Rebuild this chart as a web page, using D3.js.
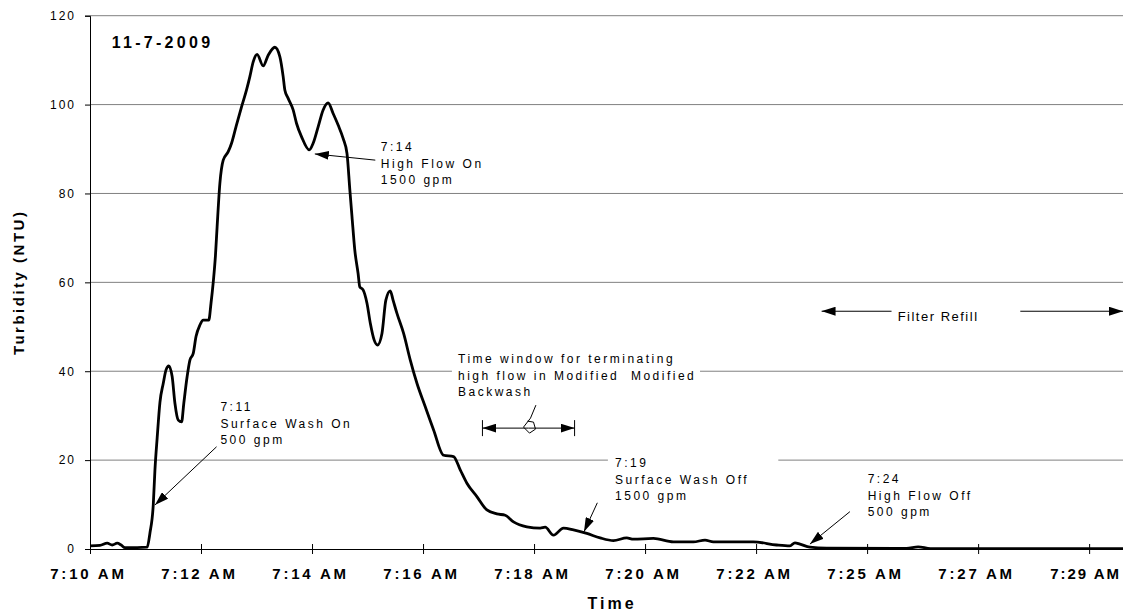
<!DOCTYPE html>
<html>
<head>
<meta charset="utf-8">
<title>Turbidity 11-7-2009</title>
<script src="https://d3js.org/d3.v7.min.js"></script>
<style>
  body { margin: 0; background: #fff; }
  svg text { font-family: "Liberation Sans", Arial, sans-serif; fill: #000; }
</style>
</head>
<body>
<div id="chart"></div>
<script>
// minutes after 7:10 AM
var minutes = [0, 0.18, 0.31, 0.40, 0.49, 0.56, 0.63, 0.85, 1.03, 1.08, 1.14, 1.17, 1.21, 1.26, 1.32, 1.37, 1.42, 1.48, 1.53, 1.59,
  1.65, 1.69, 1.75, 1.80, 1.86, 1.91, 1.98, 2.04, 2.14, 2.18, 2.22, 2.26, 2.29, 2.34, 2.40, 2.49, 2.55, 2.63, 2.73, 2.82,
  2.88, 2.94, 3.01, 3.12, 3.21, 3.33, 3.42, 3.48, 3.51, 3.57, 3.66, 3.72, 3.81, 3.95, 4.02, 4.11, 4.20, 4.29, 4.38, 4.47,
  4.56, 4.63, 4.68, 4.72, 4.77, 4.83, 4.86, 4.92, 4.99, 5.05, 5.12, 5.18, 5.26, 5.33, 5.41, 5.46, 5.53, 5.65, 5.77, 5.89,
  6.04, 6.19, 6.37, 6.55, 6.67, 6.79, 6.97, 7.15, 7.33, 7.48, 7.63, 7.87, 8.11, 8.20, 8.35, 8.53, 8.71, 8.95, 9.19, 9.43,
  9.67, 9.79, 10.15, 10.51, 10.87, 11.08, 11.23, 11.59, 11.95, 12.37, 12.61, 12.70, 12.79, 12.97, 13.27, 14.71, 14.92, 15.14, 18.61];
// turbidity, NTU
var turbidity = [0.7, 0.8, 1.3, 0.9, 1.3, 0.9, 0.3, 0.3, 0.4, 3.6, 10, 17.8, 25, 33, 37.3, 40.3, 41.2, 38.8, 32.8, 29.0,
  28.6, 32.8, 38.8, 42.5, 44, 47.8, 50.4, 51.5, 51.5, 55.3, 60, 66, 72.5, 82.3, 87.5, 89.4, 91.3, 95, 99.5, 103.3,
  106.3, 109.6, 111.3, 108.7, 111.1, 112.9, 110.8, 106.3, 103.3, 101.4, 98.8, 95.8, 92.8, 89.8, 91.3, 95, 98.8, 100.4, 98, 95.4,
  92.4, 89, 81, 74.8, 67.3, 62, 59, 58.3, 55.3, 50.8, 47, 45.9, 48.5, 56, 58.1, 56, 53, 48.5, 42.5, 37.3,
  32, 26.8, 21.1, 20.8, 17.8, 14.8, 11.8, 8.8, 7.9, 7.6, 6.1, 5, 4.7, 4.9, 3.1, 4.7, 4.3, 3.5, 2.5, 1.9,
  2.5, 2.2, 2.4, 1.6, 1.6, 2.0, 1.6, 1.6, 1.6, 0.9, 0.7, 1.4, 1.1, 0.4, 0.2, 0.15, 0.5, 0.1, 0.1];

var xTickMinutes = [0, 2, 4, 6, 8, 10, 12, 14, 16, 18];
var xTickLabels = ["7:10 AM", "7:12 AM", "7:14 AM", "7:16 AM", "7:18 AM", "7:20 AM", "7:22 AM", "7:25 AM", "7:27 AM", "7:29 AM"];
var yTicks = [0, 20, 40, 60, 80, 100, 120];

var svg_size = {width: 1123, height: 612};
var plot = {left: 90, right: 1123, top: 15.7, bottom: 549};

var svg = d3.select("#chart").append("svg")
  .attr("width", svg_size.width)
  .attr("height", svg_size.height);

var defs = svg.append("defs");
defs.append("marker")
  .attr("id", "head")
  .attr("viewBox", "0 0 14 9")
  .attr("refX", 14).attr("refY", 4.5)
  .attr("markerWidth", 14).attr("markerHeight", 9)
  .attr("markerUnits", "userSpaceOnUse")
  .attr("orient", "auto")
  .append("path").attr("d", "M0,0 L14,4.5 L0,9 Z").attr("fill", "#000");

var x = d3.scaleLinear().domain([0, 18.61]).range([plot.left, plot.right]);
var y = d3.scaleLinear().domain([0, 120]).range([plot.bottom, plot.top]);

// gridlines
svg.append("g").selectAll("line")
  .data(yTicks.filter(d => d > 0))
  .enter().append("line")
  .attr("x1", plot.left).attr("x2", plot.right)
  .attr("y1", d => y(d)).attr("y2", d => y(d))
  .attr("stroke", "#808080").attr("stroke-width", 1);

// white text boxes that cut the gridlines
var boxes = [
  {t0: 6.52, t1: 10.99, v0: 33.1, v1: 44.3},
  {t0: 9.33, t1: 12.40, v0: 9.7, v1: 21.8}
];
svg.append("g").selectAll("rect")
  .data(boxes).enter().append("rect")
  .attr("x", d => x(d.t0)).attr("width", d => x(d.t1) - x(d.t0))
  .attr("y", d => y(d.v1)).attr("height", d => y(d.v0) - y(d.v1))
  .attr("fill", "#fff");

// y axis
var yAxis = svg.append("g")
  .attr("transform", "translate(" + plot.left + ",0)")
  .call(d3.axisLeft(y).tickValues(yTicks).tickSize(5).tickPadding(9).tickFormat(d3.format("d")));
yAxis.select(".domain").attr("stroke", "#000");
yAxis.selectAll(".tick line").attr("stroke", "#000");
yAxis.selectAll("text")
  .style("font-size", "12px").style("letter-spacing", "2px")
  .attr("font-family", null);

// x axis
var xAxis = svg.append("g")
  .attr("transform", "translate(0," + plot.bottom + ")")
  .call(d3.axisBottom(x).tickValues(xTickMinutes).tickSize(5)
    .tickFormat((d, i) => xTickLabels[i]));
xAxis.select(".domain").attr("stroke", "#000");
xAxis.selectAll(".tick line").attr("stroke", "#000").attr("y1", -5).attr("y2", 5);
xAxis.selectAll("text")
  .attr("y", 30).attr("dy", 0).attr("dx", -2)
  .attr("font-family", null)
  .style("font-size", "15px").style("font-weight", "bold").style("letter-spacing", "2.8px");
// last label sits against the right edge
xAxis.selectAll(".tick:last-of-type text")
  .attr("dx", -4).style("letter-spacing", "2px");

// turbidity line
var series = minutes.map((m, i) => ({t: m, v: turbidity[i]}));
var line = d3.line().x(d => x(d.t)).y(d => y(d.v)).curve(d3.curveMonotoneX);
svg.append("path")
  .datum(series)
  .attr("d", line)
  .attr("fill", "none")
  .attr("stroke", "#000")
  .attr("stroke-width", 2.8)
  .attr("stroke-linejoin", "round");

// axis titles
svg.append("text")
  .attr("transform", "translate(24," + ((plot.top + plot.bottom) / 2) + ") rotate(-90)")
  .attr("text-anchor", "middle")
  .style("font-size", "15px").style("font-weight", "bold").style("letter-spacing", "2.5px")
  .text("Turbidity (NTU)");

svg.append("text")
  .attr("x", 612).attr("y", 609)
  .attr("text-anchor", "middle")
  .style("font-size", "16px").style("font-weight", "bold").style("letter-spacing", "3px")
  .text("Time");

svg.append("text")
  .attr("x", x(0.39)).attr("y", y(112.7))
  .style("font-size", "16px").style("font-weight", "bold").style("letter-spacing", "3.3px")
  .text("11-7-2009");

// annotations
var notes = [
  {t: 5.24, v: 89.6, lines: ["7:14", "High Flow On", "1500 gpm"], from: [5.14, 87.5], to: [4.05, 88.9]},
  {t: 2.35, v: 31.1, lines: ["7:11", "Surface Wash On", "500 gpm"], from: [2.28, 23.0], to: [1.17, 9.9]},
  {t: 6.63, v: 41.9, lines: ["Time window for terminating", "high flow in Modified  Modified", "Backwash"]},
  {t: 9.46, v: 18.5, lines: ["7:19", "Surface Wash Off", "1500 gpm"], from: [9.14, 10.4], to: [8.90, 3.9]},
  {t: 14.01, v: 14.9, lines: ["7:24", "High Flow Off", "500 gpm"], from: [13.69, 8.4], to: [12.97, 1.1]}
];

var ng = svg.append("g");
notes.forEach(function(n) {
  var txt = ng.append("text")
    .attr("x", x(n.t)).attr("y", y(n.v))
    .style("font-size", "12px").style("letter-spacing", "2.5px")
    .style("white-space", "pre");
  n.lines.forEach(function(s, i) {
    txt.append("tspan").attr("x", x(n.t)).attr("dy", i === 0 ? 0 : 16.8).text(s);
  });
  if (n.from) {
    ng.append("line")
      .attr("x1", x(n.from[0])).attr("y1", y(n.from[1]))
      .attr("x2", x(n.to[0])).attr("y2", y(n.to[1]))
      .attr("stroke", "#000").attr("stroke-width", 1)
      .attr("marker-end", "url(#head)");
  }
});

// time window bracket
var win = {t0: 7.07, t1: 8.73, v: 27.2};
var wy = y(win.v), wx0 = x(win.t0), wx1 = x(win.t1), wc = (wx0 + wx1) / 2;
ng.append("line").attr("x1", wc).attr("y1", wy).attr("x2", wx0).attr("y2", wy)
  .attr("stroke", "#000").attr("marker-end", "url(#head)");
ng.append("line").attr("x1", wc).attr("y1", wy).attr("x2", wx1).attr("y2", wy)
  .attr("stroke", "#000").attr("marker-end", "url(#head)");
[wx0, wx1].forEach(function(px) {
  ng.append("line").attr("x1", px).attr("x2", px).attr("y1", wy - 8).attr("y2", wy + 8)
    .attr("stroke", "#000").attr("stroke-width", 1);
});
ng.append("path")
  .attr("d", "M" + (wc + 7.4) + "," + (wy - 23) + " L" + (wc + 2) + "," + (wy - 10) +
    " L" + (wc - 5) + "," + (wy - 1) + " L" + (wc + 1) + "," + (wy + 5) + " L" + (wc + 7) + "," + (wy + 1) +
    " L" + (wc + 5) + "," + (wy - 6) + " L" + (wc - 1) + "," + (wy - 7))
  .attr("fill", "none").attr("stroke", "#000").attr("stroke-width", 1);

// filter refill
var refill = {t: 14.55, v: 51.3, arrowV: 53.5, left: [14.44, 13.18], right: [16.76, 18.61]};
ng.append("text")
  .attr("x", x(refill.t)).attr("y", y(refill.v))
  .style("font-size", "13px").style("letter-spacing", "1.5px")
  .text("Filter Refill");
[refill.left, refill.right].forEach(function(a) {
  ng.append("line")
    .attr("x1", x(a[0])).attr("y1", y(refill.arrowV))
    .attr("x2", x(a[1])).attr("y2", y(refill.arrowV))
    .attr("stroke", "#000").attr("stroke-width", 1)
    .attr("marker-end", "url(#head)");
});
</script>
</body>
</html>
